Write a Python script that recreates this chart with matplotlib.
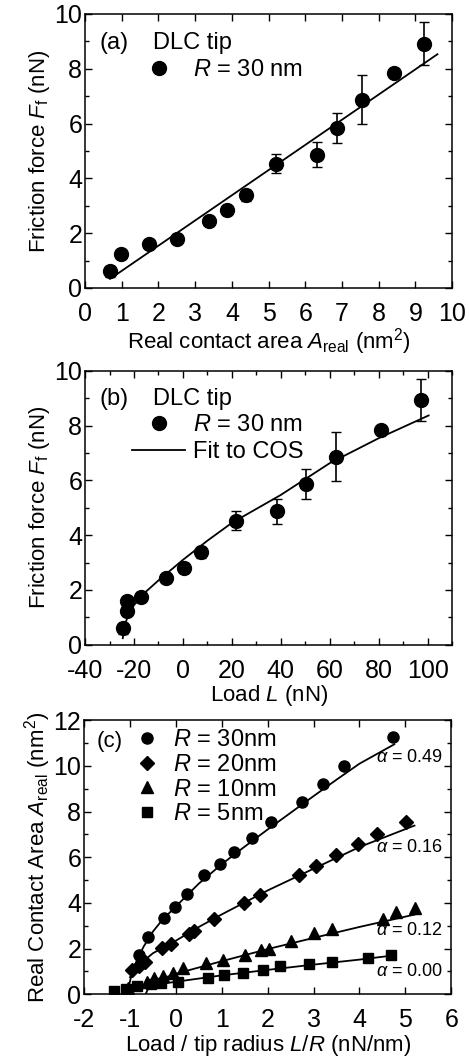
import numpy as np
import matplotlib
matplotlib.use("Agg")
import matplotlib.pyplot as plt

plt.rcParams['font.family'] = ['Liberation Sans', 'DejaVu Sans']
plt.rcParams['mathtext.fontset'] = 'custom'
plt.rcParams['mathtext.rm'] = 'Liberation Sans'
plt.rcParams['mathtext.it'] = 'Liberation Sans:italic'
plt.rcParams['axes.unicode_minus'] = False

# (a) friction vs real contact area
area = [0.68, 0.97, 1.75, 2.5, 3.38, 3.86, 4.39, 5.2, 6.32, 6.86, 7.55, 8.41, 9.23]
ff = [0.61, 1.24, 1.60, 1.80, 2.45, 2.83, 3.38, 4.53, 4.86, 5.83, 6.87, 7.85, 8.91]
ff_err = [0.2, 0.1, 0.1, 0.15, 0.15, 0.15, 0.2, 0.35, 0.46, 0.55, 0.9, 0.1, 0.78]
lin_x = [0.68, 9.6]
lin_y = [0.33, 8.53]

# (b) friction vs load
load = [-24.6, -22.9, -22.9, -17.0, -6.8, 0.3, 7.4, 21.5, 38.6, 50.2, 62.5, 80.9, 97.3]
ff_b = [0.61, 1.22, 1.60, 1.76, 2.43, 2.82, 3.38, 4.53, 4.87, 5.86, 6.86, 7.85, 8.93]
ff_b_err = [0.2, 0.1, 0.1, 0.15, 0.15, 0.15, 0.2, 0.35, 0.46, 0.55, 0.9, 0.1, 0.78]
cos_x = [-24.6, -23.5, -22, -20, -15, -10, 0, 10, 20, 40, 60, 80, 100.4]
cos_y = [0.24, 0.8, 1.15, 1.45, 1.95, 2.35, 3.1, 3.8, 4.45, 5.47, 6.63, 7.54, 8.37]

# (c) real contact area vs L/R
x30 = [-0.81, -0.6, -0.27, -0.01, 0.25, 0.62, 0.97, 1.26, 1.65, 2.07, 2.75, 3.2, 3.67, 4.73]
y30 = [1.73, 2.49, 3.34, 3.81, 4.39, 5.24, 5.71, 6.24, 6.85, 7.54, 8.42, 9.22, 10.0, 11.29]
x20 = [-0.95, -0.8, -0.68, -0.31, -0.11, 0.28, 0.4, 0.84, 1.48, 1.83, 2.68, 3.05, 3.48, 3.96, 4.39, 5.02]
y20 = [1.07, 1.22, 1.43, 2.05, 2.21, 2.65, 2.78, 3.29, 4.0, 4.36, 5.24, 5.61, 6.08, 6.59, 7.03, 7.54]
x10 = [-1.05, -0.62, -0.47, -0.29, -0.07, 0.15, 0.65, 1.02, 1.5, 1.85, 2.02, 2.51, 3.02, 3.4, 4.51, 4.8, 5.22]
y10 = [0.29, 0.56, 0.73, 0.78, 0.92, 1.14, 1.36, 1.51, 1.73, 1.95, 1.99, 2.34, 2.68, 2.87, 3.29, 3.6, 3.78]
x5 = [-1.35, -1.09, -0.84, -0.55, -0.33, 0.04, 0.69, 1.05, 1.47, 1.89, 2.27, 2.89, 3.4, 4.18, 4.69]
y5 = [0.15, 0.22, 0.37, 0.44, 0.48, 0.56, 0.73, 0.85, 0.92, 1.07, 1.22, 1.32, 1.43, 1.61, 1.73]

fit30_x = [-1.02, -0.95, -0.85, -0.7, -0.5, -0.3, 0, 0.5, 1, 1.5, 2, 2.5, 3, 3.5, 4, 4.76]
fit30_y = [0.4, 1.0, 1.5, 2.1, 2.75, 3.25, 3.85, 4.85, 5.7, 6.47, 7.22, 7.95, 8.68, 9.4, 10.1, 10.95]
fit20_x = [-1.0, -0.8, -0.5, 0, 0.5, 1, 2, 3, 4, 5.2]
fit20_y = [0.75, 1.3, 1.8, 2.35, 2.95, 3.5, 4.55, 5.5, 6.45, 7.39]
fit10_x = [-0.65, -0.58, -0.45, -0.2, 0, 1, 2, 3, 4, 5.24]
fit10_y = [0.05, 0.35, 0.55, 0.76, 0.9, 1.45, 1.98, 2.47, 2.95, 3.51]
fit5_x = [-1.0, -0.5, 0, 1, 2, 3, 4, 4.73]
fit5_y = [0.1, 0.4, 0.55, 0.83, 1.07, 1.3, 1.52, 1.7]

alpha_labels = [r'$\alpha$ = 0.49', r'$\alpha$ = 0.16', r'$\alpha$ = 0.12', r'$\alpha$ = 0.00']
alpha_y = [10.37, 6.41, 2.78, 1.02]

TICK = 18
LAB = 16
LEG = 17

fig = plt.figure(figsize=(4.7, 10.64), dpi=100)
ax_a = fig.add_axes([0.181, 0.7294, 0.781, 0.2575])
ax_b = fig.add_axes([0.181, 0.394, 0.781, 0.2575])
ax_c = fig.add_axes([0.179, 0.0655, 0.781, 0.2575])

def style(ax):
    ax.tick_params(which='both', direction='in', top=True, right=True, labelsize=TICK, width=1)
    ax.tick_params(which='major', length=5)
    ax.tick_params(which='minor', length=3)
    ax.tick_params(axis='x', which='major', pad=10)
    ax.tick_params(axis='y', which='major', pad=2)
    for s in ax.spines.values():
        s.set_linewidth(1.1)

# panel a
ax_a.errorbar(area, ff, yerr=ff_err, fmt='none', ecolor='black', capsize=3.5, elinewidth=1.2)
ax_a.plot(area, ff, 'o', color='black', ms=10, label=r'$R$ = 30 nm')
ax_a.plot(lin_x, lin_y, color='black', lw=1.3)
ax_a.set_xlim(0, 10)
ax_a.set_ylim(0, 10)
ax_a.set_xticks(np.arange(0, 11, 1))
ax_a.set_yticks(np.arange(0, 11, 2))
ax_a.set_yticks(np.arange(1, 10, 2), minor=True)
ax_a.set_xlabel(r'Real contact area $A_{\rm real}$ (nm$^2$)', fontsize=LAB, labelpad=0.5)
ax_a.set_ylabel(r'Friction force $F_{\rm f}$ (nN)', fontsize=LAB, labelpad=2)
ax_a.text(0.04, 0.895, '(a)', transform=ax_a.transAxes, fontsize=LEG, va='center')
ax_a.text(0.185, 0.895, 'DLC tip', transform=ax_a.transAxes, fontsize=LEG, va='center')
ax_a.legend(loc='upper left', bbox_to_anchor=(0.128, 0.835), frameon=False, fontsize=LEG,
            handlelength=2.25, handletextpad=0.35, borderpad=0, borderaxespad=0)
style(ax_a)

# panel b
ax_b.errorbar(load, ff_b, yerr=ff_b_err, fmt='none', ecolor='black', capsize=3.5, elinewidth=1.2)
ax_b.plot(load, ff_b, 'o', color='black', ms=10, label=r'$R$ = 30 nm')
ax_b.plot(cos_x, cos_y, color='black', lw=1.3, label='Fit to COS')
ax_b.set_xlim(-40, 110)
ax_b.set_ylim(0, 10)
ax_b.set_xticks(np.arange(-40, 101, 20))
ax_b.set_xticks(np.arange(-30, 111, 20), minor=True)
ax_b.set_yticks(np.arange(0, 11, 2))
ax_b.set_yticks(np.arange(1, 10, 2), minor=True)
ax_b.set_xlabel(r'Load $L$ (nN)', fontsize=LAB, labelpad=0.5)
ax_b.set_ylabel(r'Friction force $F_{\rm f}$ (nN)', fontsize=LAB, labelpad=2)
ax_b.text(0.04, 0.898, '(b)', transform=ax_b.transAxes, fontsize=LEG, va='center')
ax_b.text(0.185, 0.898, 'DLC tip', transform=ax_b.transAxes, fontsize=LEG, va='center')
ax_b.legend(loc='upper left', bbox_to_anchor=(0.128, 0.843), frameon=False, fontsize=LEG,
            handlelength=2.25, handletextpad=0.35, borderpad=0, borderaxespad=0, labelspacing=0.23)
style(ax_b)

# panel c
ax_c.plot(x30, y30, 'o', color='black', ms=8, label=r'$R$ = 30nm')
ax_c.plot(x20, y20, 'D', color='black', ms=7, label=r'$R$ = 20nm')
ax_c.plot(x10, y10, '^', color='black', ms=8, label=r'$R$ = 10nm')
ax_c.plot(x5, y5, 's', color='black', ms=7, label=r'$R$ = 5nm')
for fx, fy in [(fit30_x, fit30_y), (fit20_x, fit20_y), (fit10_x, fit10_y), (fit5_x, fit5_y)]:
    ax_c.plot(fx, fy, color='black', lw=1.3)
for lab, yy in zip(alpha_labels, alpha_y):
    ax_c.text(5.1, yy, lab, fontsize=13, ha='center', va='center')
ax_c.set_xlim(-2, 6)
ax_c.set_ylim(0, 12)
ax_c.set_xticks(np.arange(-2, 7, 1))
ax_c.set_yticks(np.arange(0, 13, 2))
ax_c.set_yticks(np.arange(1, 12, 2), minor=True)
ax_c.set_xlabel(r'Load / tip radius $L/R$ (nN/nm)', fontsize=LAB, labelpad=0.5)
ax_c.set_ylabel(r'Real Contact Area $A_{\rm real}$ (nm$^2$)', fontsize=LAB, labelpad=0)
ax_c.text(0.035, 0.923, '(c)', transform=ax_c.transAxes, fontsize=16, va='center')
ax_c.legend(loc='upper left', bbox_to_anchor=(0.139, 0.967), frameon=False, fontsize=LEG,
            handlelength=1.0, handletextpad=0.6, labelspacing=0.11, borderpad=0, borderaxespad=0)
style(ax_c)

fig.savefig('out.png', dpi=100)
